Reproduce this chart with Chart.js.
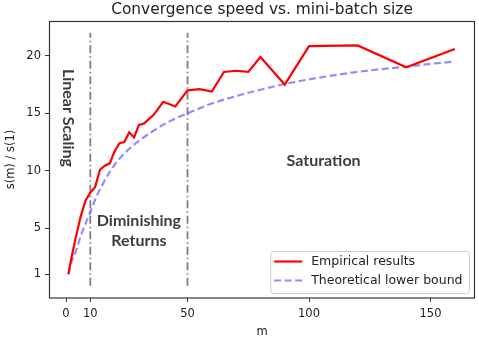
<!DOCTYPE html>
<html><head><meta charset="utf-8">
<script src="https://cdn.jsdelivr.net/npm/chart.js@4/dist/chart.umd.min.js"></script>
<style>html,body{margin:0;padding:0;background:#fff;}#wrap{width:479px;height:339px;}</style>
</head><body><div id="wrap"><canvas id="c" width="479" height="339"></canvas></div>
<script>
// ---- data ----
const mEmpirical = [1,2,4,6,8,10,12,14,16,18,20,22,24,26,28,30,32,36,40,45,50,55,60,65,70,75,80,90,100,120,140,160];
const sEmpirical = [1,2.2,4.2,6.0,7.4,8.1,8.6,10.1,10.45,10.65,11.7,12.4,12.5,13.35,12.9,14.0,14.1,14.85,16.0,15.6,17.0,17.1,16.9,18.6,18.7,18.6,19.9,17.5,20.85,20.9,19.0,20.6];
const mBound = [1,2,4,6,8,10,12,15,18,21,24,27,30,35,40,45,50,60,70,80,90,100,110,120,130,140,150,160];
const sBound = [1,1.9,3.0,4.3,5.4,6.4,7.5,8.8,9.9,10.8,11.5,12.1,12.6,13.35,14.0,14.55,15.0,15.85,16.5,17.05,17.55,17.95,18.3,18.6,18.85,19.05,19.3,19.5];
const xTickValues = [0,10,50,100,150];
const yTickValues = [1,5,10,15,20];
const phaseBoundaries = [10,50];
const boundarySpan = [0,22];
const seriesLabels = ['Empirical results','Theoretical lower bound'];
const phaseNames = ['Linear Scaling','Diminishing\nReturns','Saturation'];

// ---- styling / placement ----
const TXT = '#222';
const FONT = '"DejaVu Sans", sans-serif';
const phasePlacement = [ {m:1, s:14.6, rot:Math.PI/2}, {m:30, s:4.8, rot:0}, {m:106, s:10.85, rot:0} ];

const toXY = (xs, ys) => xs.map((x,i)=>({x:x, y:ys[i]}));

const datasets = [
  {label:seriesLabels[0], data:toXY(mEmpirical,sEmpirical), borderColor:'#ff0000', borderWidth:2.2, pointRadius:0, tension:0, fill:false},
  {label:seriesLabels[1], data:toXY(mBound,sBound), borderColor:'rgba(50,50,255,0.55)', borderWidth:2.2, borderDash:[7,3.5], pointRadius:0, cubicInterpolationMode:'monotone', fill:false}
];
phaseBoundaries.forEach(b => datasets.push({
  label:'', data:boundarySpan.map(v=>({x:b, y:v})), borderColor:'rgba(105,105,105,0.85)', borderWidth:1.8,
  borderDash:[8,3,1.5,3], pointRadius:0, fill:false
}));

const overlay = {
  id:'overlay',
  afterDatasetsDraw(chart){
    const {ctx, chartArea:a, scales:{x, y}} = chart;
    ctx.save();
    // frame (all four spines)
    ctx.strokeStyle = '#333'; ctx.lineWidth = 1.2; ctx.setLineDash([]);
    ctx.strokeRect(a.left+0.5, a.top+0.5, a.width-1, a.height-0.5);
    // phase annotations
    ctx.fillStyle = '#3d3d3d';
    ctx.font = 'bold 16px Lato, "Open Sans", sans-serif';
    ctx.textAlign = 'center'; ctx.textBaseline = 'middle';
    phaseNames.forEach((name, i) => {
      const p = phasePlacement[i];
      const lines = name.split('\n');
      ctx.save();
      ctx.translate(x.getPixelForValue(p.m), y.getPixelForValue(p.s));
      ctx.rotate(p.rot);
      const lh = 20;
      lines.forEach((ln, j) => ctx.fillText(ln, 0, (j - (lines.length-1)/2) * lh));
      ctx.restore();
    });
    // legend
    ctx.font = '12.5px ' + FONT;
    const tw = Math.max(...seriesLabels.map(t => ctx.measureText(t).width));
    const w = 41 + tw + 6.5, h = 42;
    const L = a.right - 6 - w, T = a.bottom - 5 - h;
    ctx.beginPath();
    ctx.roundRect(L+0.5, T+0.5, w, h, 3);
    ctx.fillStyle = 'rgba(255,255,255,0.85)'; ctx.fill();
    ctx.strokeStyle = '#cccccc'; ctx.lineWidth = 1; ctx.stroke();
    const rows = [T+10.5, T+29.5];
    [0,1].forEach(i => {
      const ds = chart.data.datasets[i];
      ctx.beginPath();
      ctx.strokeStyle = ds.borderColor; ctx.lineWidth = ds.borderWidth;
      ctx.setLineDash(ds.borderDash || []);
      ctx.moveTo(L+4, rows[i]); ctx.lineTo(L+32, rows[i]); ctx.stroke();
      ctx.setLineDash([]);
      ctx.fillStyle = TXT; ctx.textAlign = 'left'; ctx.textBaseline = 'middle';
      ctx.fillText(seriesLabels[i], L+41, rows[i]);
    });
    ctx.restore();
  }
};

new Chart(document.getElementById('c'), {
  type:'line',
  data:{datasets},
  plugins:[overlay],
  options:{
    responsive:false, animation:false, devicePixelRatio:1,
    layout:{padding:{top:0, right:4, bottom:0, left:0}},
    plugins:{
      legend:{display:false}, tooltip:{enabled:false},
      title:{display:true, fullSize:false, text:'Convergence speed vs. mini-batch size', color:TXT,
        font:{family:FONT, size:15.4, weight:'normal'}, padding:{top:0.5, bottom:2}}
    },
    scales:{
      x:{type:'linear', min:-7, max:168.3,
        afterBuildTicks:s=>{ s.ticks = xTickValues.map(v=>({value:v})); },
        afterFit:s=>{ s.height = 41; },
        ticks:{color:TXT, font:{family:FONT, size:11.5}, padding:5, maxRotation:0, autoSkip:false},
        grid:{drawOnChartArea:false, drawTicks:true, tickLength:4, tickColor:'#333', color:'#333'},
        border:{display:false},
        title:{display:true, text:'m', color:TXT, font:{family:FONT, size:11.5}, padding:{top:0, bottom:0}}
      },
      y:{type:'linear', min:-1.06, max:23.03,
        afterBuildTicks:s=>{ s.ticks = yTickValues.map(v=>({value:v})); },
        afterFit:s=>{ s.width = 49; },
        ticks:{color:TXT, font:{family:FONT, size:11.5}, padding:4, autoSkip:false},
        grid:{drawOnChartArea:false, drawTicks:true, tickLength:4, tickColor:'#333', color:'#333'},
        border:{display:false},
        title:{display:true, text:'s(m) / s(1)', color:TXT, font:{family:FONT, size:11.5}, padding:{top:4, bottom:0}}
      }
    }
  }
});
</script></body></html>
